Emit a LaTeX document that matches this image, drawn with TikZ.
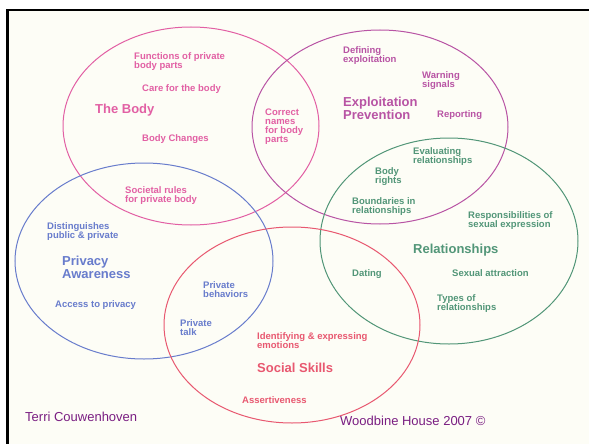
\documentclass[tikz,border=0pt]{standalone}
\usepackage{fontspec}
\setmainfont{Liberation Sans}

\definecolor{bodypink}{RGB}{226,96,164}
\definecolor{exploitpurple}{RGB}{184,84,164}
\definecolor{relgreen}{RGB}{82,150,120}
\definecolor{privblue}{RGB}{104,124,204}
\definecolor{socialred}{RGB}{232,88,112}
\definecolor{footerpurple}{RGB}{122,30,130}
\definecolor{paper}{RGB}{253,253,246}

\begin{document}
\begin{tikzpicture}[x=1pt, y=-1pt]

  % Define text styles
  \tikzset{
    topic/.style={font=\fontsize{9.5}{9}\selectfont\bfseries, align=left, inner sep=0pt, anchor=north west},
    title/.style={font=\fontsize{13}{12.5}\selectfont\bfseries, align=left, inner sep=0pt, anchor=north west},
    credit/.style={font=\fontsize{13}{13}\selectfont, text=footerpurple, inner sep=0pt, anchor=north west},
    venn line/.style={line width=1pt},
  }

  % Page and frame
  \useasboundingbox (0,0) rectangle (589,444);
  \fill[white] (0,0) rectangle (589,444);
  \fill[paper] (7.5,10) rectangle (589,444);
  \draw[line width=2.6pt] (7.5,444) -- (7.5,10) -- (589,10);

  % The five circles
  \draw[venn line, bodypink] (191,126) ellipse [x radius=128, y radius=99];
  \draw[venn line, exploitpurple] (380,127) ellipse [x radius=128, y radius=97];
  \draw[venn line, relgreen] (449,241) ellipse [x radius=129, y radius=103];
  \draw[venn line, privblue] (144,261) ellipse [x radius=129, y radius=98];
  \draw[venn line, socialred] (292,325) ellipse [x radius=128, y radius=98];

  % The Body
  \node[topic, text=bodypink] (bodyfn) at (134,52) {Functions of private\\body parts};
  \node[topic, text=bodypink] (bodycare) at (142,84) {Care for the body};
  \node[title, text=bodypink] (body) at (95,104) {The Body};
  \node[topic, text=bodypink] (bodychg) at (142,134) {Body Changes};
  \node[topic, text=bodypink] (names) at (265,109) {Correct\\names\\for body\\parts};
  \node[topic, text=bodypink] (rules) at (125,186) {Societal rules\\for private body};

  % Exploitation Prevention
  \node[topic, text=exploitpurple] (defining) at (343,46) {Defining\\exploitation};
  \node[topic, text=exploitpurple] (warning) at (422,71) {Warning\\signals};
  \node[title, text=exploitpurple] (exploit) at (343,97) {Exploitation\\Prevention};
  \node[topic, text=exploitpurple] (reporting) at (437,110) {Reporting};

  % Relationships
  \node[topic, text=relgreen] (evaluating) at (413,147) {Evaluating\\relationships};
  \node[topic, text=relgreen] (rights) at (375,167) {Body\\rights};
  \node[topic, text=relgreen] (boundaries) at (352,197) {Boundaries in\\relationships};
  \node[topic, text=relgreen] (responsib) at (468,211) {Responsibilities of\\sexual expression};
  \node[title, text=relgreen] (relations) at (413,244) {Relationships};
  \node[topic, text=relgreen] (dating) at (352,269) {Dating};
  \node[topic, text=relgreen] (attraction) at (452,269) {Sexual attraction};
  \node[topic, text=relgreen] (types) at (437,294) {Types of\\relationships};

  % Privacy Awareness
  \node[topic, text=privblue] (distinguish) at (47,222) {Distinguishes\\public \& private};
  \node[title, text=privblue] (privacy) at (62,256) {Privacy\\Awareness};
  \node[topic, text=privblue] (access) at (55,300) {Access to privacy};
  \node[topic, text=privblue] (behaviors) at (203,281) {Private\\behaviors};
  \node[topic, text=privblue] (talk) at (180,319) {Private\\talk};

  % Social Skills
  \node[topic, text=socialred] (identify) at (257,332) {Identifying \& expressing\\emotions};
  \node[title, text=socialred] (social) at (257,363) {Social Skills};
  \node[topic, text=socialred] (assert) at (242,396) {Assertiveness};

  % Credits
  \node[credit] (author) at (25,412) {Terri Couwenhoven};
  \node[credit] (publisher) at (340,416) {Woodbine House 2007 ©};

\end{tikzpicture}
\end{document}
